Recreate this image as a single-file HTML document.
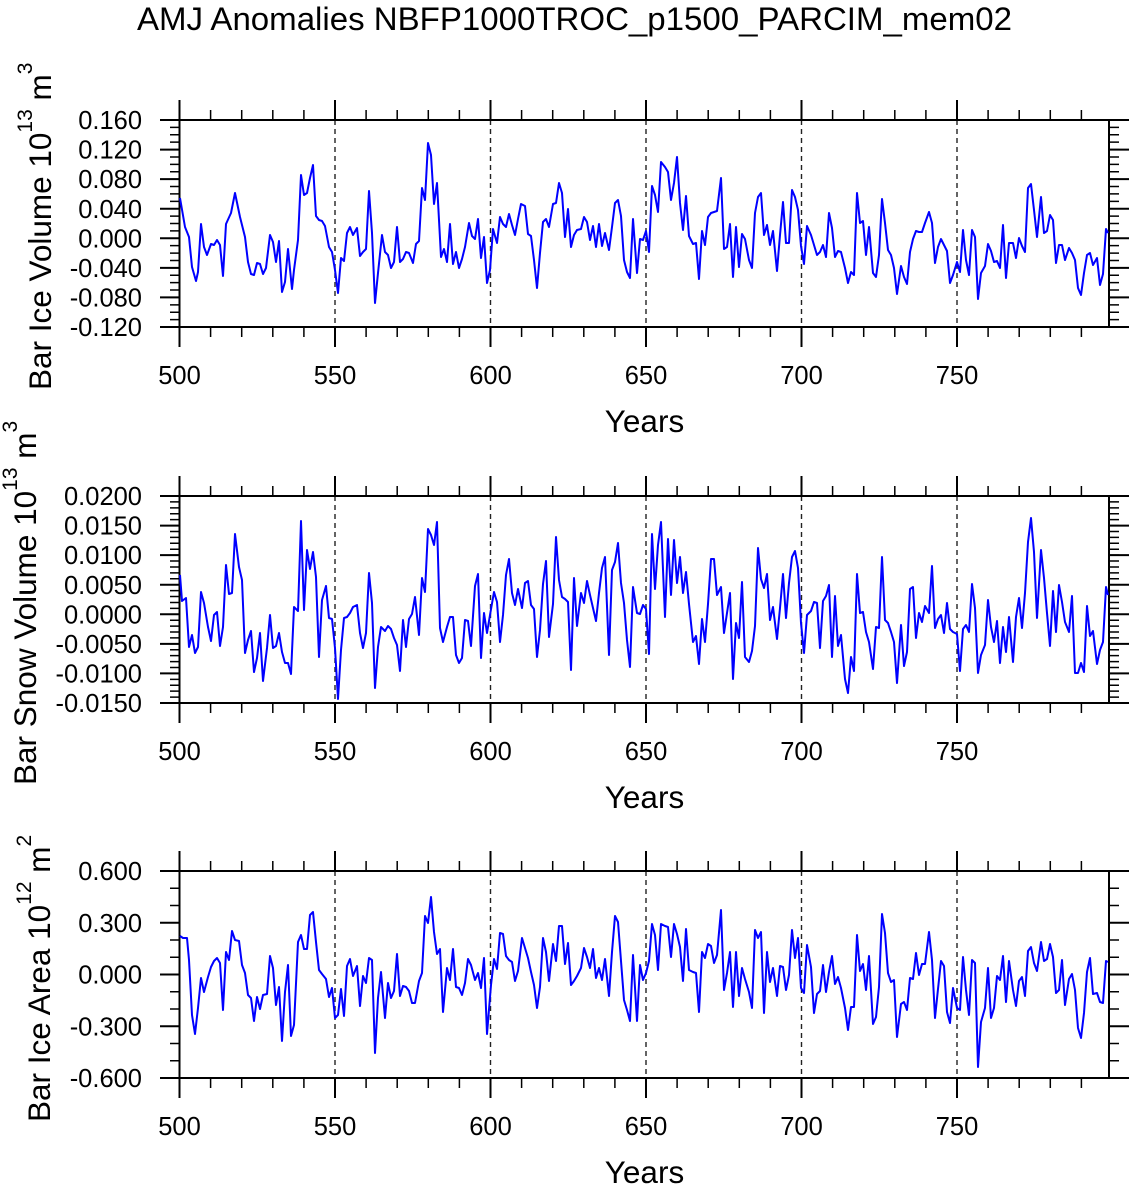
<!DOCTYPE html>
<html>
<head>
<meta charset="utf-8">
<style>
html,body{margin:0;padding:0;background:#fff;}
svg{display:block;}
text{font-family:"Liberation Sans",Arial,Helvetica,sans-serif;fill:#000;}
</style>
</head>
<body>
<svg width="1135" height="1188" viewBox="0 0 1135 1188" xmlns="http://www.w3.org/2000/svg">
<rect x="0" y="0" width="1135" height="1188" fill="#fff"/>
<defs>
<g id="xt" stroke="#000" fill="none">
  <line x1="178.75" y1="-5" x2="1109" y2="-5" stroke-width="10" stroke-dasharray="1.5 29.6"/>
  <line x1="178.5" y1="-10" x2="1111" y2="-10" stroke-width="20" stroke-dasharray="2 153.5"/>
  <line x1="178.75" y1="212" x2="1109" y2="212" stroke-width="10" stroke-dasharray="1.5 29.6"/>
  <line x1="178.5" y1="217" x2="1111" y2="217" stroke-width="20" stroke-dasharray="2 153.5"/>
  <g stroke="#222" stroke-width="1.4" stroke-dasharray="5 4">
    <line x1="335" y1="0" x2="335" y2="207"/>
    <line x1="490.5" y1="0" x2="490.5" y2="207"/>
    <line x1="646" y1="0" x2="646" y2="207"/>
    <line x1="801.5" y1="0" x2="801.5" y2="207"/>
    <line x1="957" y1="0" x2="957" y2="207"/>
  </g>
  <rect x="179.5" y="0" width="929.5" height="207" stroke-width="2"/>
</g>
<g id="xl" font-size="25.5" text-anchor="middle">
  <text x="179.5" y="264">500</text>
  <text x="335" y="264">550</text>
  <text x="490.5" y="264">600</text>
  <text x="646" y="264">650</text>
  <text x="801.5" y="264">700</text>
  <text x="957" y="264">750</text>
  <text x="644.5" y="312" font-size="31.5">Years</text>
</g>
</defs>

<text x="574.5" y="30" font-size="32" text-anchor="middle" textLength="875" lengthAdjust="spacingAndGlyphs">AMJ Anomalies NBFP1000TROC_p1500_PARCIM_mem02</text>

<!-- Panel 1 -->
<g transform="translate(0,120)">
  <use href="#xt"/>
  <use href="#xl"/>
  <g stroke="#000" fill="none">
    <line x1="175" y1="-0.75" x2="175" y2="207.75" stroke-width="10" stroke-dasharray="1.5 5.893"/>
    <line x1="170" y1="-1" x2="170" y2="208" stroke-width="20" stroke-dasharray="2 27.571"/>
    <line x1="1114" y1="-0.75" x2="1114" y2="207.75" stroke-width="10" stroke-dasharray="1.5 5.893"/>
    <line x1="1119" y1="-1" x2="1119" y2="208" stroke-width="20" stroke-dasharray="2 27.571"/>
  </g>
  <g font-size="25.5" text-anchor="end">
    <text x="142" y="9.1">0.160</text>
    <text x="142" y="38.7">0.120</text>
    <text x="142" y="68.2">0.080</text>
    <text x="142" y="97.8">0.040</text>
    <text x="142" y="127.4">0.000</text>
    <text x="142" y="157">-0.040</text>
    <text x="142" y="186.5">-0.080</text>
    <text x="142" y="216.1">-0.120</text>
  </g>
</g>
<text transform="translate(51,390) rotate(-90)" font-size="31.5">Bar Ice Volume 10<tspan font-size="21" dy="-19">13</tspan><tspan dy="19"> m</tspan><tspan font-size="21" dy="-19">3</tspan></text>
<polyline fill="none" stroke="#0000ff" stroke-width="2" stroke-linejoin="round" points="180,198 185,227 189,237 192,267 196,281 198,272 201,224 204,247 207,255 211,244 214,245 217,240 220,245 223,276 226,224 231,213 235,193 240,217 245,237 248,262 251,274 254,275 257,263 260,264 263,274 266,268 270,235 273,242 276,262 279,241 282,292 285,282 288,249 292,289 294,270 298,240 301,175 304,195 307,193 310,178 313,165 316,216 319,220 322,221 325,226 329,247 332,252 335,270 338,293 341,258 344,261 347,233 350,227 353,235 357,228 360,256 363,252 366,249 369,191 372,233 375,303 378,273 382,235 385,252 388,255 391,268 394,262 397,227 400,262 403,259 406,252 409,253 413,263 416,244 419,241 422,188 425,200 428,143 431,155 434,204 437,183 441,257 444,249 447,262 450,224 453,264 456,252 459,268 462,259 465,247 469,223 472,236 475,239 478,219 481,258 484,237 487,283 490,270 493,229 497,243 500,217 503,224 506,227 509,214 512,225 515,235 518,219 521,204 525,206 528,234 531,236 534,260 537,288 540,253 543,222 546,219 549,227 553,204 556,203 559,183 562,193 565,237 568,209 571,247 574,235 577,230 581,229 584,217 587,222 590,240 593,226 596,247 599,224 602,246 605,233 609,250 612,227 615,203 618,200 621,216 624,260 627,272 630,278 633,219 637,273 640,239 643,240 646,231 649,252 652,186 655,195 658,212 661,162 665,167 668,172 671,200 674,183 677,157 680,203 683,230 686,196 689,236 693,244 696,243 699,279 702,231 705,245 708,217 711,213 714,212 717,211 721,178 724,249 727,247 730,224 733,277 736,227 739,267 742,234 745,239 749,260 752,268 755,213 758,197 761,193 764,235 767,225 770,245 773,231 777,271 780,235 783,202 786,243 789,243 792,190 795,197 798,210 801,246 804,264 807,226 811,235 814,245 817,255 820,252 823,245 826,257 829,213 832,228 835,257 838,251 841,252 845,268 848,283 851,272 854,275 857,193 860,223 863,221 866,255 869,227 873,273 876,277 879,255 882,199 885,223 888,250 891,255 894,268 897,294 901,266 904,277 907,284 910,252 913,239 916,231 919,232 922,232 925,223 929,212 932,223 935,263 938,247 941,239 944,245 947,251 950,283 953,275 957,262 960,272 963,230 966,260 969,275 972,230 975,237 978,299 981,273 985,266 988,244 991,251 994,262 997,261 1000,268 1003,225 1006,278 1009,243 1013,243 1016,258 1019,238 1022,246 1025,252 1028,188 1031,184 1034,210 1037,237 1041,197 1044,233 1047,231 1050,215 1053,220 1056,263 1059,245 1062,245 1065,260 1069,248 1072,253 1075,260 1078,288 1081,295 1084,273 1087,255 1090,253 1093,265 1097,258 1100,285 1103,274 1106,229 1108,233"/>

<!-- Panel 2 -->
<g transform="translate(0,496)">
  <use href="#xt"/>
  <use href="#xl"/>
  <g stroke="#000" fill="none">
    <line x1="175" y1="-0.75" x2="175" y2="207.75" stroke-width="10" stroke-dasharray="1.5 4.414"/>
    <line x1="170" y1="-1" x2="170" y2="208" stroke-width="20" stroke-dasharray="2 27.571"/>
    <line x1="1114" y1="-0.75" x2="1114" y2="207.75" stroke-width="10" stroke-dasharray="1.5 4.414"/>
    <line x1="1119" y1="-1" x2="1119" y2="208" stroke-width="20" stroke-dasharray="2 27.571"/>
  </g>
  <g font-size="25.5" text-anchor="end">
    <text x="142" y="9.1">0.0200</text>
    <text x="142" y="38.7">0.0150</text>
    <text x="142" y="68.2">0.0100</text>
    <text x="142" y="97.8">0.0050</text>
    <text x="142" y="127.4">0.0000</text>
    <text x="142" y="157">-0.0050</text>
    <text x="142" y="186.5">-0.0100</text>
    <text x="142" y="216.1">-0.0150</text>
  </g>
</g>
<text transform="translate(36,785) rotate(-90)" font-size="31.5">Bar Snow Volume 10<tspan font-size="21" dy="-19">13</tspan><tspan dy="19"> m</tspan><tspan font-size="21" dy="-19">3</tspan></text>
<polyline fill="none" stroke="#0000ff" stroke-width="2" stroke-linejoin="round" points="180,575 182,601 186,598 189,647 192,635 195,653 198,647 201,592 204,603 208,627 211,641 214,615 217,612 220,646 223,627 226,565 229,594 232,593 235,534 239,567 242,580 245,653 248,640 251,631 254,672 257,658 260,633 263,681 267,648 270,615 273,648 276,646 279,633 282,652 285,663 288,663 291,674 294,607 298,611 301,521 304,610 307,550 310,569 313,552 316,577 319,657 322,600 326,586 329,618 332,619 335,648 338,699 341,650 344,618 347,617 350,613 353,607 357,605 360,633 363,648 366,633 369,573 372,603 375,688 378,647 381,627 385,631 388,626 391,629 394,638 397,645 400,671 403,620 406,647 409,619 412,614 415,597 419,635 422,578 425,592 428,529 431,535 434,545 437,522 440,628 443,642 447,627 450,617 453,617 456,655 459,663 462,658 465,620 468,621 471,646 475,586 478,574 481,658 484,613 487,633 490,615 494,592 497,602 500,642 503,615 506,575 509,559 512,593 515,605 518,589 522,608 525,583 528,581 531,605 534,609 537,657 540,630 543,584 546,561 549,637 553,604 556,537 559,580 562,597 565,599 568,602 571,670 574,578 577,626 581,593 584,603 587,581 590,595 593,608 596,621 599,593 602,568 605,557 609,655 612,570 615,562 618,543 621,583 624,603 627,640 630,667 633,587 637,613 640,614 643,605 646,609 649,654 652,534 655,589 658,545 661,522 665,617 668,539 671,595 674,540 677,583 680,557 683,593 686,572 689,604 693,642 696,636 699,664 702,619 705,642 708,604 711,559 714,559 717,595 721,587 724,633 727,613 730,593 733,679 736,623 739,638 742,582 745,657 749,662 752,651 755,626 758,548 761,579 764,588 767,574 770,620 773,607 777,639 780,608 783,574 786,618 789,583 792,557 795,551 798,568 801,623 804,653 807,615 811,611 814,602 817,603 820,648 823,601 826,596 829,585 832,657 835,596 838,646 841,635 845,679 848,693 851,657 854,671 857,574 860,613 863,612 866,632 869,642 873,669 876,627 879,628 882,557 885,620 888,623 891,632 894,642 897,683 901,625 904,666 907,652 910,589 913,587 916,638 919,613 922,622 925,606 929,613 932,566 935,628 938,619 941,615 944,633 947,603 950,629 953,632 957,634 960,671 963,629 966,625 969,632 972,584 975,608 978,673 981,655 985,645 988,600 991,627 994,642 997,621 1000,663 1003,627 1006,652 1009,617 1013,662 1016,617 1019,598 1022,628 1025,593 1028,542 1031,518 1034,552 1037,618 1041,550 1044,578 1047,613 1050,646 1053,591 1056,632 1059,585 1062,602 1065,622 1069,632 1072,596 1075,673 1078,673 1081,663 1084,672 1087,606 1090,636 1093,631 1097,664 1100,650 1103,642 1106,587 1108,595"/>

<!-- Panel 3 -->
<g transform="translate(0,871)">
  <use href="#xt"/>
  <use href="#xl"/>
  <g stroke="#000" fill="none">
    <line x1="175" y1="-0.75" x2="175" y2="207.75" stroke-width="10" stroke-dasharray="1.5 15.75"/>
    <line x1="170" y1="-1" x2="170" y2="208" stroke-width="20" stroke-dasharray="2 49.75"/>
    <line x1="1114" y1="-0.75" x2="1114" y2="207.75" stroke-width="10" stroke-dasharray="1.5 15.75"/>
    <line x1="1119" y1="-1" x2="1119" y2="208" stroke-width="20" stroke-dasharray="2 49.75"/>
  </g>
  <g font-size="25.5" text-anchor="end">
    <text x="142" y="9.1">0.600</text>
    <text x="142" y="60.9">0.300</text>
    <text x="142" y="112.6">0.000</text>
    <text x="142" y="164.4">-0.300</text>
    <text x="142" y="216.1">-0.600</text>
  </g>
</g>
<text transform="translate(50,1122) rotate(-90)" font-size="31.5">Bar Ice Area 10<tspan font-size="21" dy="-19">12</tspan><tspan dy="19"> m</tspan><tspan font-size="21" dy="-19">2</tspan></text>
<polyline fill="none" stroke="#0000ff" stroke-width="2" stroke-linejoin="round" points="180,936 183,938 187,938 189,960 192,1015 195,1034 198,1008 201,978 204,992 208,977 211,967 214,961 217,958 220,963 223,1010 226,952 229,960 232,931 235,940 239,941 242,965 245,973 248,995 251,998 254,1021 257,997 260,1009 263,995 267,994 270,956 273,968 276,1005 279,987 282,1041 285,992 288,965 291,1036 294,1025 298,942 301,935 304,949 307,949 310,915 313,912 316,942 319,970 322,974 326,979 329,997 332,988 335,1018 338,1015 341,989 344,1016 347,966 350,959 353,976 357,966 360,1006 363,976 366,983 369,958 372,960 375,1053 378,998 381,972 385,1018 388,983 391,998 394,991 397,954 400,996 403,986 406,987 409,991 412,1003 415,1003 419,981 422,973 425,916 428,923 431,897 434,932 437,954 440,949 443,1012 447,968 450,980 453,949 456,987 459,988 462,995 465,983 468,959 471,965 475,980 478,973 481,988 484,958 487,1034 491,985 494,959 497,969 500,933 503,934 506,956 509,960 512,962 515,981 518,971 522,938 525,948 528,958 531,972 534,985 537,1008 540,987 543,938 546,952 549,981 553,944 556,961 559,926 562,926 565,964 568,943 571,985 574,981 577,976 581,968 584,948 587,957 590,968 593,949 596,978 599,968 602,980 605,959 609,996 612,952 615,916 618,922 621,961 624,1000 627,1010 630,1021 633,955 637,1021 640,965 643,980 646,973 649,961 652,924 655,935 658,970 661,924 665,926 668,927 671,957 674,924 677,934 680,947 683,981 686,929 689,970 693,972 696,973 699,1012 702,952 705,958 708,944 711,946 714,963 717,955 721,910 724,990 727,973 730,952 733,1007 736,952 739,996 742,968 745,979 749,992 752,1008 755,930 758,938 761,932 764,1013 767,952 770,982 773,968 777,996 780,966 783,967 786,990 789,975 792,930 795,958 798,938 801,988 804,993 807,945 811,967 814,1013 817,994 820,991 823,965 826,992 829,972 832,956 835,984 838,977 841,988 845,1008 848,1030 851,1007 854,1007 857,935 860,971 863,964 866,990 869,956 873,1024 876,1017 879,987 882,914 885,933 888,973 891,982 894,980 897,1037 901,1004 904,1002 907,1010 910,978 913,979 916,953 919,975 922,964 925,964 929,932 932,960 935,1018 938,989 941,961 944,966 947,1012 950,1023 953,988 957,1008 960,1010 963,957 966,990 969,1015 972,960 975,963 978,1067 981,1022 985,1008 988,968 991,1018 994,1008 997,976 1000,980 1003,956 1006,1002 1009,961 1013,990 1016,1006 1019,981 1022,977 1025,996 1028,951 1031,947 1034,963 1037,971 1041,942 1044,961 1047,959 1050,944 1053,957 1056,993 1059,990 1062,960 1065,1005 1069,979 1072,974 1075,990 1078,1028 1081,1038 1084,1013 1087,972 1090,958 1093,994 1097,993 1100,1002 1103,1003 1106,961 1108,962"/>
</svg>
</body>
</html>
